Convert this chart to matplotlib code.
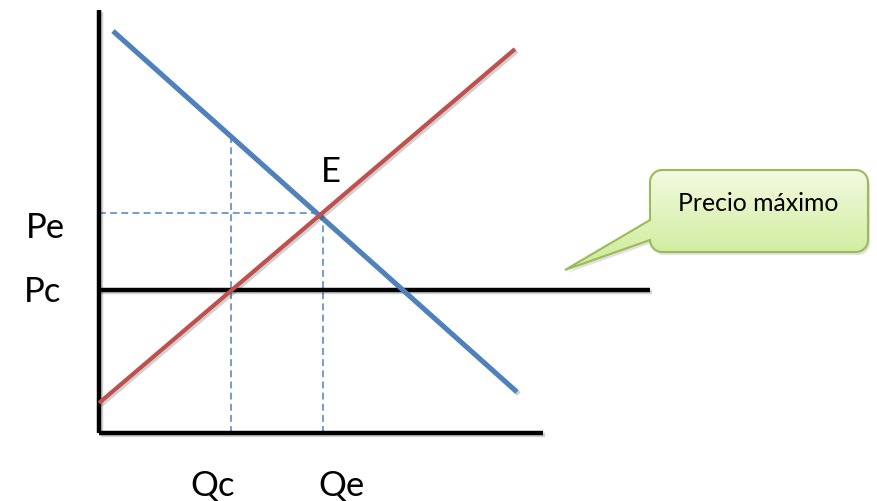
import numpy as np
import matplotlib
matplotlib.use("Agg")
import matplotlib.pyplot as plt
from matplotlib.path import Path
from matplotlib.patches import PathPatch
import matplotlib.patheffects as pe

# ---- data (schematic units: origin at the axes corner) ----
demand_q = [14, 418]
demand_p = [402, 41]
supply_q = [0, 416]
supply_p = [30, 384]
price_ceiling = 143          # Pc
ceiling_q_end = 551
qc, pe_val = 132, 218        # Qc and Pe
qe = 224                      # Qe
qc_demand_p = 297            # demand price at Qc
axis_q_max = 444
axis_p_max = 423
price_labels = ["Pe", "Pc"]
quantity_labels = ["Qc", "Qe"]
callout_text = "Precio máximo"

BLUE = "#4F81BD"
RED = "#C0504D"
FONT = "Lato"

fig = plt.figure(figsize=(8.78, 5.01), dpi=100)
ax = fig.add_axes([0, 0, 1, 1])
ax.set_xlim(-99, 779)
ax.set_ylim(-68, 433)
ax.axis("off")

shadow = [pe.SimpleLineShadow(offset=(1.5, -1.5), alpha=0.18, shadow_color="black"), pe.Normal()]

# axes
ax.plot([0, 0], [0, axis_p_max], color="black", lw=3.2, solid_capstyle="butt", zorder=3, path_effects=shadow)
ax.plot([0, axis_q_max], [0, 0], color="black", lw=3.2, solid_capstyle="butt", zorder=3, path_effects=shadow)

# dashed guides
dkw = dict(color=BLUE, lw=1.1, dashes=(4.5, 2.8), zorder=2)
ax.plot([qc, qc], [0, qc_demand_p], **dkw)
ax.plot([qe, qe], [0, pe_val], **dkw)
ax.plot([0, qe - 3], [pe_val + 2, pe_val + 2], **dkw)

# price ceiling
ax.plot([0, ceiling_q_end], [price_ceiling, price_ceiling], color="black", lw=3.2,
        solid_capstyle="butt", zorder=3, path_effects=shadow)

# demand & supply
ax.plot(demand_q, demand_p, color=BLUE, lw=3.6, solid_capstyle="butt", zorder=4, path_effects=shadow)
ax.plot(supply_q, supply_p, color=RED, lw=3.0, solid_capstyle="butt", zorder=5, path_effects=shadow)

# labels
tkw = dict(family=FONT, fontsize=25, color="black", ha="center", va="center")
ax.text(-54, 205, price_labels[0], **tkw)
ax.text(-56, 141, price_labels[1], **tkw)
ax.text(114, -53, quantity_labels[0], **tkw)
ax.text(243, -53, quantity_labels[1], **tkw)
ax.text(232, 261, "E", **tkw)

# callout (speech bubble) with gradient fill
x0, x1, y0, y1, r = 551, 769, 181, 263, 12
tip = (466, 163)
b_hi, b_lo = 213, 193
def arc(cx, cy, a0, a1, n=8):
    t = np.linspace(np.radians(a0), np.radians(a1), n)
    return list(zip(cx + r * np.cos(t), cy + r * np.sin(t)))
verts = []
verts += [(x0, b_hi)]
verts += arc(x0 + r, y1 - r, 180, 90)
verts += arc(x1 - r, y1 - r, 90, 0)
verts += arc(x1 - r, y0 + r, 0, -90)
verts += arc(x0 + r, y0 + r, -90, -180)
verts += [(x0, b_lo), tip, (x0, b_hi), (x0, b_hi)]
codes = [Path.MOVETO] + [Path.LINETO] * (len(verts) - 2) + [Path.CLOSEPOLY]
path = Path(verts, codes)

shadow_patch = PathPatch(path, facecolor="black", edgecolor="none", alpha=0.12, zorder=6,
                         transform=ax.transData + matplotlib.transforms.Affine2D().translate(2, -3))
ax.add_patch(shadow_patch)
patch = PathPatch(path, facecolor="none", edgecolor="#9BBB59", lw=1.5, zorder=8)
ax.add_patch(patch)
top = np.array([0.95, 0.98, 0.88])
bot = np.array([0.80, 0.92, 0.58])
g = np.linspace(0, 1, 100)[:, None]
img = top[None, None, :] * (1 - g[..., None]) + bot[None, None, :] * g[..., None]
img = np.repeat(img, 2, axis=1)
im = ax.imshow(img, extent=[tip[0], x1, tip[1], y1], origin="upper", aspect="auto", zorder=7)
im.set_clip_path(patch)
ax.text((x0 + x1) / 2 - 1, 230, callout_text, family=FONT, fontsize=17.8, color="black",
        ha="center", va="center", zorder=9)
ax.set_xlim(-99, 779)
ax.set_ylim(-68, 433)

fig.savefig("out.png", dpi=100)
